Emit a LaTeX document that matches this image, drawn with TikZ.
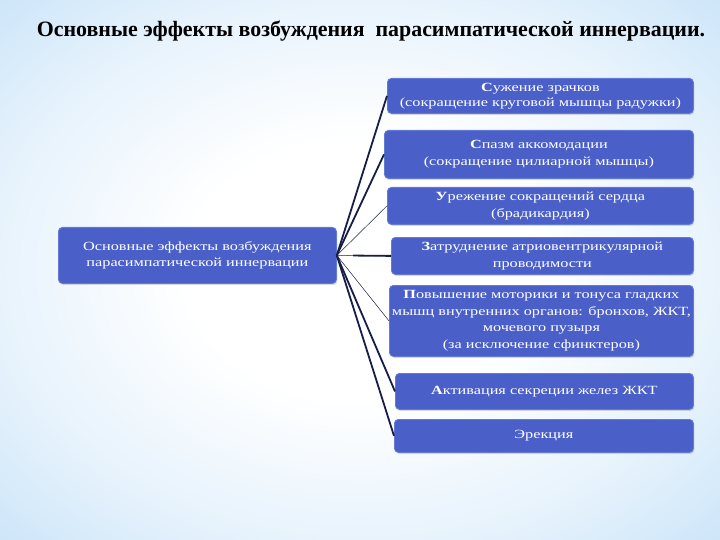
\documentclass[tikz,border=0pt]{standalone}
\usepackage{fontspec}
\setmainfont{Liberation Serif}
\newfontfamily\boxfont[FakeStretch=1.3]{Liberation Serif}
\usetikzlibrary{shadows,calc}
\definecolor{boxblue}{RGB}{74,95,200}
\definecolor{boxedge}{RGB}{100,122,212}
\definecolor{bgedge}{RGB}{172,213,245}
\definecolor{linenavy}{RGB}{22,30,72}
\pgfdeclareradialshading{slidebg}{\pgfpoint{0bp}{0bp}}{%
  color(0bp)=(white); color(12bp)=(white); color(25bp)=(white!72!bgedge);
  color(38bp)=(white!32!bgedge); color(50bp)=(bgedge); color(72bp)=(bgedge)}
\begin{document}
\begin{tikzpicture}[x=1pt,y=-1pt,
  effbox/.style={draw=boxedge, line width=0.8pt, fill=boxblue, rounded corners=4pt,
    text=white, align=center, font=\boxfont\fontsize{12.5}{16.5}\selectfont,
    inner sep=0pt, anchor=north west,
    drop shadow={shadow xshift=1pt, shadow yshift=-1.5pt, opacity=0.25, fill=black!60}},
  thickln/.style={draw=linenavy, line width=1.8pt},
  thinln/.style={draw=linenavy, line width=0.5pt}]
\shade[shading=slidebg] (0,0) rectangle (720,540);
\useasboundingbox (0,0) rectangle (720,540);
\node[font=\fontsize{21.9}{26}\selectfont\bfseries, text=black] (title) at (371,31)
  {Основные эффекты возбуждения\ \ парасимпатической иннервации.};
\node[effbox, minimum width=278pt, minimum height=56pt] (L) at (58,227)
  {Основные эффекты возбуждения\\парасимпатической иннервации};
\node[effbox, minimum width=306pt, minimum height=35pt, font=\boxfont\fontsize{12.5}{15}\selectfont] (b1) at (387,78)
  {\textbf{С}ужение зрачков\\(сокращение круговой мышцы радужки)};
\node[effbox, minimum width=309pt, minimum height=48pt] (b2) at (384,130)
  {\textbf{С}пазм аккомодации\\(сокращение цилиарной мышцы)};
\node[effbox, minimum width=306pt, minimum height=37pt] (b3) at (387,187)
  {\textbf{У}режение сокращений сердца\\(брадикардия)};
\node[effbox, minimum width=302pt, minimum height=37pt] (b4) at (391,237)
  {\textbf{З}атруднение атриовентрикулярной\\проводимости};
\node[effbox, minimum width=304pt, minimum height=71pt] (b5) at (389,285)
  {\textbf{П}овышение моторики и тонуса гладких\\мышц внутренних органов: бронхов, ЖКТ,\\мочевого пузыря\\(за исключение сфинктеров)};
\node[effbox, minimum width=298pt, minimum height=36pt] (b6) at (395,373)
  {\textbf{А}ктивация секреции желез ЖКТ};
\node[effbox, minimum width=299pt, minimum height=33pt] (b7) at (394,419)
  {Эрекция};
\draw[thickln] (L.east) -- (b1.west);
\draw[thickln] (L.east) -- (b2.west);
\draw[thinln] (L.east) -- (b3.west);
\draw[thinln] (L.east) -- (b4.west);
\draw[thickln] ($(L.east)!0.3!(b4.west)$) -- (b4.west);
\draw[thinln] (L.east) -- (b5.west);
\draw[thickln] (L.east) -- (b6.west);
\draw[thickln] (L.east) -- (b7.west);
\end{tikzpicture}
\end{document}
